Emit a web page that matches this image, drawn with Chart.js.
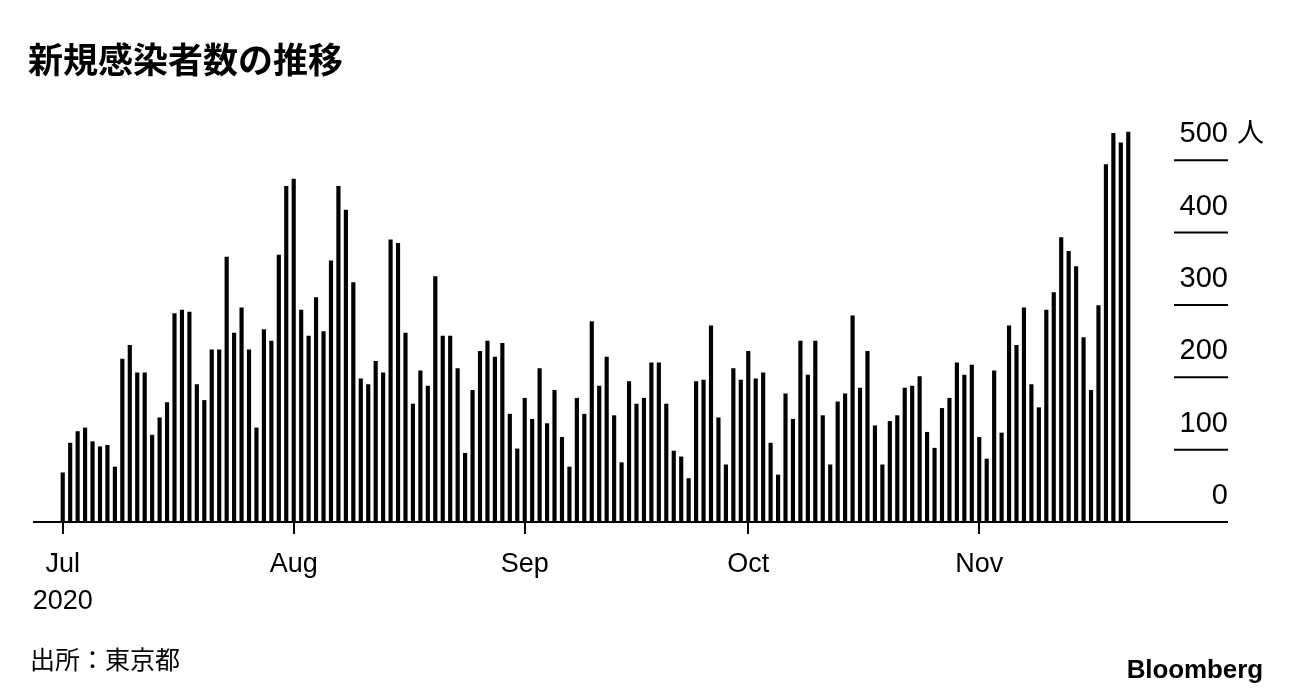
<!DOCTYPE html>
<html>
<head>
<meta charset="utf-8">
<script src="https://cdn.jsdelivr.net/npm/chart.js@4.4.1/dist/chart.umd.min.js"></script>
<style>
  html, body { margin: 0; padding: 0; background: #fff; }
  #wrap { position: relative; width: 1292px; height: 698px; overflow: hidden; }
  #chart { position: absolute; left: 0; top: 0; }
  .title { position: absolute; left: 28px; top: 40px; font: bold 35px/35px "Noto Sans CJK JP", sans-serif; color: #000; }
  .source { position: absolute; left: 30px; top: 645px; font: 400 25px/26px "Noto Sans CJK JP", sans-serif; color: #000; }
  .brand { position: absolute; right: 29px; top: 655px; font: bold 26px/28px "Liberation Sans", Arial, sans-serif; color: #000; letter-spacing: -0.1px; }
</style>
</head>
<body>
<div id="wrap">
  <canvas id="chart" width="1292" height="698"></canvas>
  <div class="title">新規感染者数の推移</div>
  <div class="source">出所：東京都</div>
  <div class="brand">Bloomberg</div>
</div>
<script>
// daily new cases, Tokyo, 2020
var julCases = [68, 109, 125, 130, 111, 104, 106, 76, 225, 244, 206, 206, 120, 144, 165, 288,
  293, 290, 190, 168, 238, 238, 366, 261, 296, 238, 130, 266, 250, 369, 464];
var augCases = [474, 293, 257, 310, 263, 361, 464, 431, 331, 198, 190, 222, 206, 390, 385, 261,
  163, 209, 188, 339, 257, 257, 212, 95, 182, 236, 250, 228, 247, 149, 101];
var sepCases = [171, 142, 212, 136, 182, 117, 76, 171, 149, 277, 188, 228, 147, 82, 194, 163,
  171, 220, 220, 163, 98, 90, 60, 194, 196, 271, 144, 79, 212, 196];
var octCases = [236, 198, 206, 109, 65, 177, 142, 250, 203, 250, 147, 79, 166, 177, 285, 185,
  236, 133, 79, 139, 147, 185, 188, 201, 124, 102, 157, 171, 220, 203, 217];
var novCases = [117, 87, 209, 123, 271, 244, 296, 190, 158, 293, 317, 393, 374, 353, 255, 182,
  299, 494, 537, 524, 539];

var monthNames = ['Jul', 'Aug', 'Sep', 'Oct', 'Nov'];
var monthTickLabels = [['Jul', '2020'], 'Aug', 'Sep', 'Oct', 'Nov'];
var yTicks = [0, 100, 200, 300, 400, 500];
var yUnit = '人';

var months = [julCases, augCases, sepCases, octCases, novCases];
var labels = [], values = [], tickText = [];
for (var m = 0; m < months.length; m++) {
  for (var d = 0; d < months[m].length; d++) {
    labels.push(monthNames[m] + ' ' + (d + 1));
    values.push(months[m][d]);
    tickText.push(d == 0 ? monthTickLabels[m] : '');
  }
}

var LABEL_FONT = '"Liberation Sans", Arial, Helvetica, sans-serif';

// baseline across the whole width, short grid lines + labels on the right
var framePlugin = {
  id: 'frame',
  afterDatasetsDraw: function(chart) {
    var ctx = chart.ctx;
    var y = chart.scales.y;
    var area = chart.chartArea;
    var gx0 = area.right + 42, gx1 = area.right + 96;
    ctx.save();
    ctx.strokeStyle = '#000';
    ctx.lineWidth = 2;
    ctx.beginPath();
    ctx.moveTo(area.left - 26, y.getPixelForValue(0));
    ctx.lineTo(gx1, y.getPixelForValue(0));
    ctx.stroke();
    ctx.fillStyle = '#000';
    ctx.font = '29px ' + LABEL_FONT;
    ctx.textAlign = 'right';
    ctx.textBaseline = 'alphabetic';
    yTicks.forEach(function(v) {
      var py = y.getPixelForValue(v);
      if (v > 0) {
        ctx.beginPath();
        ctx.moveTo(gx0, py);
        ctx.lineTo(gx1, py);
        ctx.stroke();
      }
      ctx.fillText(String(v), gx1, py - 18);
    });
    ctx.textAlign = 'left';
    ctx.font = '27px "Noto Sans CJK JP", sans-serif';
    ctx.fillText(yUnit, gx1 + 9, y.getPixelForValue(yTicks[yTicks.length - 1]) - 18);
    ctx.restore();
  }
};

new Chart(document.getElementById('chart'), {
  type: 'bar',
  data: {
    labels: labels,
    datasets: [{
      data: values,
      backgroundColor: '#000',
      borderWidth: 0,
      barThickness: 3.5
    }]
  },
  options: {
    responsive: false,
    animation: false,
    layout: { padding: { left: 59, right: 160, top: 124, bottom: 76 } },
    plugins: { legend: { display: false }, tooltip: { enabled: false } },
    scales: {
      x: {
        offset: true,
        border: { display: false },
        grid: {
          offset: false,
          drawOnChartArea: false,
          drawTicks: true,
          tickLength: 12,
          lineWidth: 2,
          color: function(c) { return tickText[c.index] ? '#000' : 'rgba(0,0,0,0)'; }
        },
        ticks: {
          autoSkip: false,
          maxRotation: 0,
          padding: 12,
          color: '#000',
          font: { family: LABEL_FONT, size: 27, lineHeight: 1.36 },
          callback: function(v, i) { return tickText[i]; }
        },
        afterFit: function(scale) { scale.height = 100; }
      },
      y: {
        display: false,
        min: 0,
        max: 550
      }
    }
  },
  plugins: [framePlugin]
});
</script>
</body>
</html>
